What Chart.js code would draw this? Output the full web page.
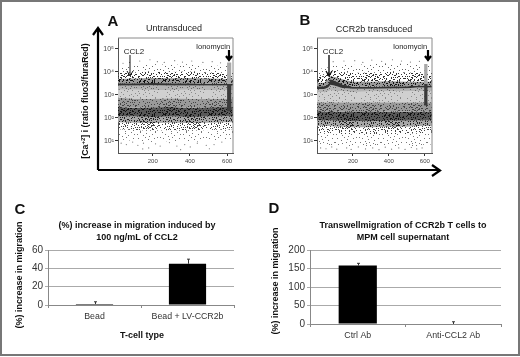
<!DOCTYPE html>
<html>
<head>
<meta charset="utf-8">
<style>
  html, body { margin: 0; padding: 0; background: #fff; }
  body { position: relative; width: 520px; height: 357px; overflow: hidden; font-family: "Liberation Sans", Arial, sans-serif; color: #222; }
  #frame { position: absolute; left: 0; top: 0; width: 520px; height: 356px; box-sizing: border-box; border: 2px solid #777; pointer-events: none; }
  .box { position: absolute; filter: blur(0.3px); }
  .flow { filter: blur(0.6px); }
  .label { position: absolute; white-space: nowrap; transform: translate(-50%, -50%); }
  .letter { font-weight: bold; font-size: 15px; color: #111; }
  .head { font-size: 9px; color: #222; }
  .bold { font-weight: bold; font-size: 9px; color: #111; text-align: center; line-height: 12px; }
  .ca { font-weight: bold; font-size: 8.8px; color: #111; transform: translate(-50%, -50%) rotate(-90deg); }
  .ca sup { font-size: 6px; }
  svg { position: absolute; left: 0; top: 0; }
</style>
</head>
<body>
<div class="box flow" style="left:90px;top:30px;width:150px;height:140px"><canvas id="chartA"></canvas></div>
<div class="box flow" style="left:289px;top:30px;width:150px;height:140px"><canvas id="chartB"></canvas></div>
<div class="box" style="left:10px;top:240px;width:254px;height:100px"><canvas id="chartC"></canvas></div>
<div class="box" style="left:265px;top:240px;width:245px;height:110px"><canvas id="chartD"></canvas></div>

<svg width="520" height="357">
  <g fill="none" stroke="#000" stroke-width="2.2">
    <path d="M98 170 V29 M93 35 L98 28 L103 35"/>
    <path d="M98 170 H439 M432 165 L440 170.5 L432 176"/>
  </g>
  <g fill="none" stroke="#111" stroke-width="1">
    <path d="M130 55 V75 M127 71 L130 76 L133 71"/>
    <path d="M329 55 V75 M326 71 L329 76 L332 71" stroke-width="1.4"/>
  </g>
  <g fill="none" stroke="#000" stroke-width="2.2">
    <path d="M229 50 V58 M226 56 L229 60 L232 56"/>
    <path d="M428 50 V58 M425 56 L428 60 L431 56"/>
  </g>
</svg>

<div class="label letter" style="left:113px;top:20px">A</div>
<div class="label letter" style="left:305px;top:19px">B</div>
<div class="label letter" style="left:20px;top:208px">C</div>
<div class="label letter" style="left:274px;top:207px">D</div>
<div class="label head" style="left:174px;top:28px">Untransduced</div>
<div class="label head" style="left:374px;top:29px">CCR2b transduced</div>
<div class="label ca" style="left:85px;top:101px">[Ca<sup>+2</sup>] i (ratio fluo3/furaRed)</div>
<div class="label" style="left:134px;top:51px;font-size:8px">CCL2</div>
<div class="label" style="left:213px;top:46px;font-size:7.5px">Ionomycin</div>
<div class="label" style="left:333px;top:51px;font-size:8px">CCL2</div>
<div class="label" style="left:410px;top:46px;font-size:7.5px">Ionomycin</div>
<div class="label bold" style="left:137px;top:231px">(%) increase in migration induced by<br>100 ng/mL of CCL2</div>
<div class="label bold" style="left:403px;top:231px">Transwellmigration of CCR2b T cells to<br>MPM cell supernatant</div>
<div class="label bold" style="left:142px;top:335px">T-cell type</div>
<div class="label ca" style="left:19px;top:275px;font-size:9px">(%) increase in migration</div>
<div class="label ca" style="left:275px;top:281px;font-size:9px">(%) increase in migration</div>
<div id="frame"></div>

<script src="https://cdn.jsdelivr.net/npm/chart.js@4"></script>
<script>
// Panel A, density edges (ratio value at each time)
const timeA = [13, 100, 200, 300, 400, 500, 600, 632];
const aEdge0 = [16000, 19000, 22000, 20000, 22000, 19000, 18000, 18000];
const aEdge1 = [9000, 9500, 10500, 10000, 10500, 9500, 9000, 9000];
const aEdge2 = [5000, 5200, 5500, 5400, 5500, 5200, 5000, 5000];
const aEdge3 = [3200, 3200, 3300, 3200, 3200, 3100, 3100, 3100];
const aEdge4 = [2600, 2600, 2650, 2600, 2600, 2550, 2550, 2550];
const aEdge5 = [1700, 1700, 1650, 1650, 1700, 1650, 1600, 1600];
const aEdge6 = [750, 700, 700, 720, 700, 700, 700, 700];
const aEdge7 = [300, 280, 290, 300, 280, 290, 300, 300];
const aEdge8 = [120, 115, 110, 115, 110, 115, 120, 120];
const aEdge9 = [65, 62, 60, 62, 60, 62, 65, 65];
const aEdge10 = [32, 30, 28, 30, 28, 30, 32, 32];
const aEdge11 = [12, 10, 9, 10, 9, 10, 12, 12];

// Panel B, same edges with the CCL2 bump around t=70
const timeB = [0, 40, 62, 75, 100, 140, 200, 300, 400, 500, 560, 600, 640];
const bEdge0 = [14000, 14000, 16000, 19000, 20000, 20000, 20000, 22000, 24000, 22000, 20000, 20000, 20000];
const bEdge1 = [6500, 6500, 9000, 11000, 11000, 10000, 9000, 9500, 10000, 9500, 9000, 9000, 9000];
const bEdge2 = [3400, 3400, 5000, 6500, 6000, 4800, 3800, 3800, 4000, 3800, 3800, 3800, 3800];
const bEdge3 = [2400, 2400, 3000, 5000, 4200, 2900, 2300, 2300, 2400, 2400, 2600, 2600, 2600];
const bEdge4 = [1800, 1800, 2100, 2800, 2500, 2000, 1850, 1850, 1900, 1950, 2100, 2100, 2100];
const bEdge5 = [1300, 1300, 1400, 1600, 1500, 1400, 1350, 1400, 1400, 1400, 1500, 1500, 1500];
const bEdge6 = [500, 480, 480, 500, 480, 480, 480, 480, 480, 480, 480, 480, 480];
const bEdge7 = [200, 190, 190, 200, 190, 185, 180, 180, 185, 185, 190, 190, 190];
const bEdge8 = [80, 78, 78, 78, 75, 75, 72, 72, 75, 75, 78, 78, 78];
const bEdge9 = [45, 45, 45, 45, 42, 42, 40, 40, 42, 42, 45, 45, 45];
const bEdge10 = [22, 22, 22, 22, 20, 20, 20, 20, 20, 20, 22, 22, 22];
const bEdge11 = [7, 7, 6, 6, 6, 6, 6, 6, 6, 6, 6, 7, 7];

// ionomycin column at the right end of each run
const spikeTimeA = [600, 624];
const spikeA = [26000, 3000, 200];
const spikeTimeB = [596, 616];
const spikeB = [22000, 3000, 350];

// stray dots outside the bands
const strayA = [[40,24000],[75,26000],[130,30000],[185,34000],[225,28000],[262,26000],[318,31000],[360,27000],[410,30000],[470,26000],[520,28000],[565,25000],
  [30,8],[58,7],[92,9],[120,6.5],[150,8],[178,5],[215,7.5],[240,6],[290,8.5],[330,6],[372,7],[402,5.5],[440,8],[488,6.5],[530,7],[572,9],[146,4.5],[350,4.2],[505,4.6]];
const strayB = [[90,28000],[150,30000],[210,31000],[255,26000],[305,33000],[360,29000],[420,34000],[470,30000],[520,27000],[570,29000],
  [20,5],[50,4.6],[82,5.5],[110,4.4],[165,5],[190,4.3],[230,5.5],[270,4.5],[310,5],[345,4.2],[380,5.4],[415,4.4],[455,5],[490,4.3],[525,5.2],[555,4.5],[585,5]];

// panel C
const categoriesC = ['Bead', 'Bead + LV-CCR2b'];
const valuesC = [1, 45];
const errorsC = [2.5, 5];

// panel D
const categoriesD = ['Ctrl Ab', 'Anti-CCL2 Ab'];
const valuesD = [158, 0];
const errorsD = [6, 6];

// dots for the speckled fills, one repeating tile
const tileDots = [[1,2],[4,0],[7,3],[10,1],[13,4],[16,2],[19,0],[21,5],[2,6],[6,8],[9,5],[12,7],[15,9],[18,6],[20,10],[0,10],[3,12],[7,11],[11,10],[14,13],[17,12],[22,14],[1,15],[5,14],[8,16],[12,15],[16,16],[19,14],
  [3,4],[8,7],[14,1],[17,9],[5,10],[10,13],[20,3],[22,8],[0,7],[11,4],[6,1],[15,6],[2,13],[18,15],[9,9],[13,11],[4,16],[21,12]];

// thick adds a second mirrored set of dots for the dense bands
function speckle(ctx, count, color, bg, thick) {
  const tile = document.createElement('canvas');
  tile.width = 46;
  tile.height = 34;
  const t = tile.getContext('2d');
  if (bg) {
    t.fillStyle = bg;
    t.fillRect(0, 0, 46, 34);
  }
  t.fillStyle = color;
  tileDots.slice(0, count).forEach(d => {
    t.fillRect(d[0], d[1], 1, 1);
    t.fillRect(45 - d[0], d[1], 1, 1);
    t.fillRect(d[0], 33 - d[1], 1, 1);
    t.fillRect(45 - d[1], 33 - d[0], 1, 1);
    if (thick) {
      t.fillRect(d[0] + 23, 16 - d[1], 1, 1);
      t.fillRect(22 - d[0], d[1] + 17, 1, 1);
      t.fillRect(d[1] + 2, d[0] + 8, 1, 1);
      t.fillRect(44 - d[0], 32 - d[1], 1, 1);
    }
  });
  return ctx.createPattern(tile, 'repeat');
}

function bandStyles(ctx) {
  return [
    speckle(ctx, 22, '#666'),
    speckle(ctx, 46, '#333', null, true),
    speckle(ctx, 46, '#111', '#999', true),
    '#333333',
    speckle(ctx, 46, '#666', '#b4b4b4'),
    speckle(ctx, 30, '#8a8a8a', '#d0d0d0'),
    speckle(ctx, 46, '#444', '#9a9a9a', true),
    speckle(ctx, 46, '#111', '#585858', true),
    speckle(ctx, 46, '#222', '#a8a8a8', true),
    speckle(ctx, 46, '#444', null, true),
    speckle(ctx, 22, '#777')
  ];
}

function toPoints(times, values) {
  return times.map((t, i) => ({ x: t, y: values[i] }));
}

const framePlugin = {
  id: 'frame',
  afterDraw(chart) {
    const a = chart.chartArea;
    const c = chart.ctx;
    c.save();
    c.strokeStyle = '#8a8a8a';
    c.lineWidth = 1;
    c.beginPath();
    c.moveTo(a.left, a.top);
    c.lineTo(a.right, a.top);
    c.lineTo(a.right, a.bottom);
    c.stroke();
    c.restore();
  }
};

function flowChart(id, times, edges, spikeTime, spike, stray, xMin, xMax) {
  const canvas = document.getElementById(id);
  const ctx = canvas.getContext('2d');
  const styles = bandStyles(ctx);
  const datasets = [];

  // stray dots first so they sit on top
  datasets.push({
    data: stray.map(p => ({ x: p[0], y: p[1] })),
    showLine: false,
    pointRadius: 0.6,
    pointBackgroundColor: '#777',
    pointBorderWidth: 0,
    fill: false,
    order: 0
  });

  // ionomycin column: grey on top, dark below
  spike.forEach((level, i) => {
    datasets.push({
      data: spikeTime.map(t => ({ x: t, y: level })),
      borderWidth: 0,
      pointRadius: 0,
      fill: i < spike.length - 1 ? '+1' : false,
      backgroundColor: i === 0 ? '#a8a8a8' : '#3a3a3a',
      order: 1
    });
  });

  edges.forEach((edge, i) => {
    datasets.push({
      data: toPoints(times, edge),
      borderWidth: 0,
      pointRadius: 0,
      tension: 0,
      fill: i < edges.length - 1 ? '+1' : false,
      backgroundColor: i < edges.length - 1 ? styles[i] : 'transparent',
      order: 2
    });
  });

  return new Chart(ctx, {
    type: 'line',
    data: { datasets: datasets },
    options: {
      responsive: true,
      maintainAspectRatio: false,
      animation: false,
      layout: { padding: { top: 8, right: 7, left: 0, bottom: 0 } },
      plugins: {
        legend: { display: false },
        tooltip: { enabled: false }
      },
      scales: {
        x: {
          type: 'linear',
          min: xMin,
          max: xMax,
          grid: { drawOnChartArea: false, color: '#333', tickLength: 3 },
          border: { color: '#555' },
          afterBuildTicks(scale) {
            scale.ticks = [200, 400, 600].map(v => ({ value: v }));
          },
          ticks: {
            maxRotation: 0,
            color: '#444',
            padding: 2,
            font: { family: '"Liberation Sans"', size: 6 }
          },
          afterFit(scale) { scale.height = 17; }
        },
        y: {
          type: 'logarithmic',
          min: 3,
          max: 300000,
          grid: { drawOnChartArea: false, color: '#333', tickLength: 3 },
          border: { color: '#555' },
          afterBuildTicks(scale) {
            scale.ticks = [10, 100, 1000, 10000, 100000].map(v => ({ value: v }));
          },
          ticks: {
            color: '#444',
            padding: 1,
            font: { family: '"Liberation Sans"', size: 7 },
            callback(v) {
              return '10' + '⁰¹²³⁴⁵'[Math.round(Math.log10(v))];
            }
          },
          afterFit(scale) { scale.width = 28; }
        }
      }
    },
    plugins: [framePlugin]
  });
}

const errorBars = {
  id: 'errorBars',
  afterDatasetsDraw(chart, args, opts) {
    const c = chart.ctx;
    const meta = chart.getDatasetMeta(0);
    const y = chart.scales.y;
    c.save();
    c.strokeStyle = '#333';
    c.lineWidth = 1;
    meta.data.forEach((bar, i) => {
      const top = y.getPixelForValue(chart.data.datasets[0].data[i] + opts.errors[i]);
      const x = Math.round(bar.x) + 0.5;
      c.beginPath();
      c.moveTo(x, bar.y);
      c.lineTo(x, top);
      c.moveTo(x - 1.5, top);
      c.lineTo(x + 1.5, top);
      c.stroke();
    });
    c.restore();
  }
};

function barChart(id, categories, values, errors, yMax, step, yWidth, rightPad, xHeight) {
  return new Chart(document.getElementById(id).getContext('2d'), {
    type: 'bar',
    data: {
      labels: categories,
      datasets: [{
        data: values,
        backgroundColor: '#000',
        categoryPercentage: 0.4,
        barPercentage: 1
      }]
    },
    options: {
      responsive: true,
      maintainAspectRatio: false,
      animation: false,
      layout: { padding: { top: 10, right: rightPad } },
      plugins: {
        legend: { display: false },
        tooltip: { enabled: false },
        errorBars: { errors: errors }
      },
      scales: {
        x: {
          grid: { drawOnChartArea: false, offset: true, color: '#888', tickLength: 3 },
          border: { color: '#888' },
          ticks: {
            color: '#333',
            maxRotation: 0,
            padding: 3,
            font: { family: '"Liberation Sans"', size: 8.8 }
          },
          afterFit(scale) { scale.height = xHeight; }
        },
        y: {
          min: 0,
          max: yMax,
          grid: { color: '#aaaaaa', tickLength: 3 },
          border: { color: '#888' },
          ticks: {
            stepSize: step,
            color: '#333',
            padding: 2,
            font: { family: '"Liberation Sans"', size: 10 }
          },
          afterFit(scale) { scale.width = yWidth; }
        }
      }
    },
    plugins: [errorBars]
  });
}

flowChart('chartA', timeA,
  [aEdge0, aEdge1, aEdge2, aEdge3, aEdge4, aEdge5, aEdge6, aEdge7, aEdge8, aEdge9, aEdge10, aEdge11],
  spikeTimeA, spikeA, strayA, 13, 632);
flowChart('chartB', timeB,
  [bEdge0, bEdge1, bEdge2, bEdge3, bEdge4, bEdge5, bEdge6, bEdge7, bEdge8, bEdge9, bEdge10, bEdge11],
  spikeTimeB, spikeB, strayB, 0, 640);

barChart('chartC', categoriesC, valuesC, errorsC, 60, 20, 38, 30, 35);
barChart('chartD', categoriesD, valuesD, errorsD, 200, 50, 45, 9, 26);
</script>
</body>
</html>
